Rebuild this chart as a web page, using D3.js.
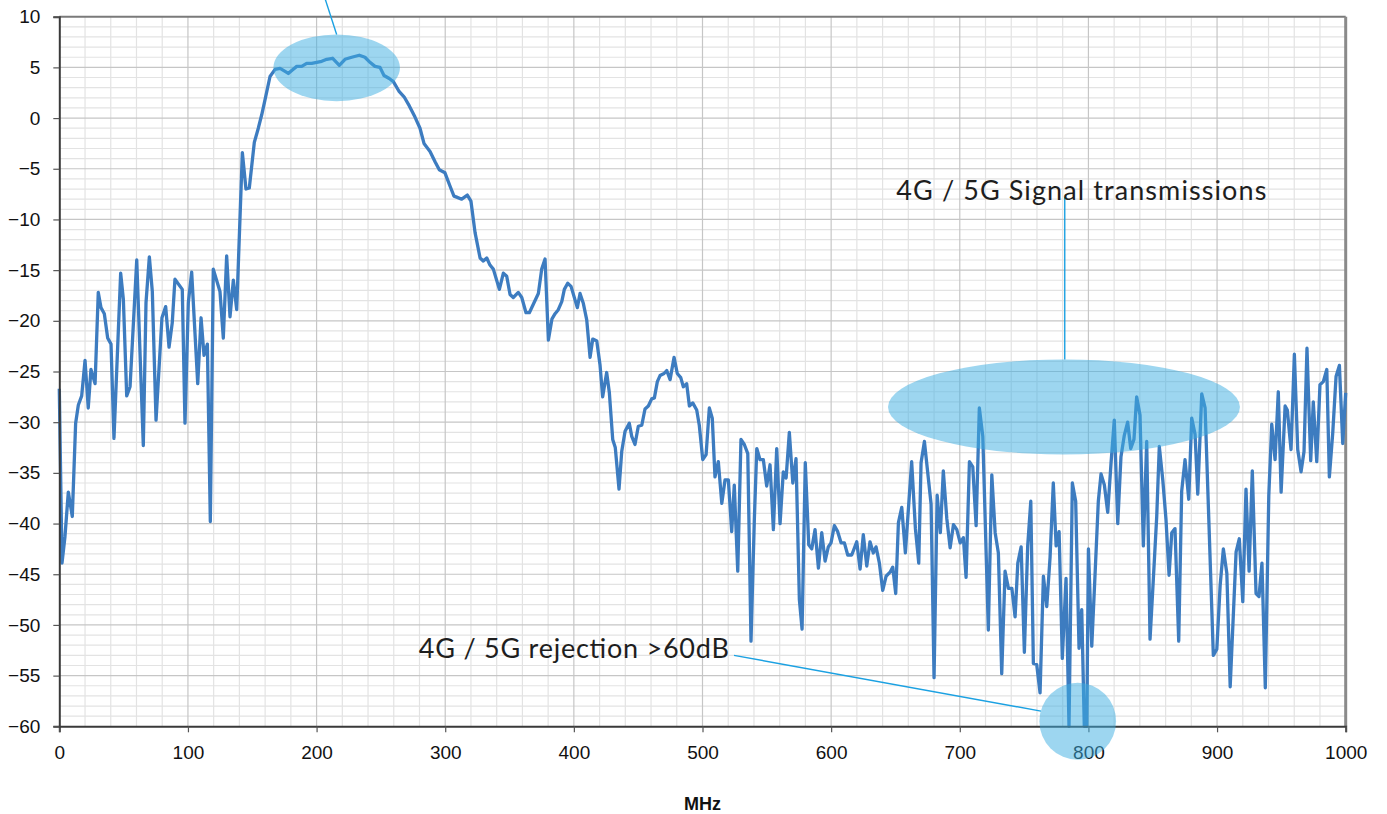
<!DOCTYPE html>
<html>
<head>
<meta charset="utf-8">
<script src="https://cdn.jsdelivr.net/npm/d3@7/dist/d3.min.js"></script>
<style>
  html, body { margin: 0; padding: 0; background: #ffffff; }
  svg { display: block; }
</style>
</head>
<body>
<div id="chart"></div>
<script>
// frequency sweep
const freqMHz = [0,2.1,4.4,7.0,10.1,12.7,14.8,17.4,20.0,22.5,
  24.6,27.8,30.3,32.4,35.0,37.6,40.2,42.5,47.7,49.8,
  52.4,55.0,60.2,65.3,67.4,70.0,72.3,75.2,79.8,82.7,
  85.3,87.8,89.9,95.6,97.7,100.3,102.9,107.6,110.2,112.5,
  115.1,117.4,119.7,124.9,127.5,130.1,132.7,135.3,137.9,142.3,
  145.1,147.7,151.6,154.7,157.3,159.9,163.8,167.7,171.6,175.5,
  178.0,180.7,184.6,188.4,192.3,196.2,200.1,204.0,207.9,212.5,
  217.7,222.1,227.3,233.2,237.6,241.5,245.4,249.3,252.4,256.5,
  259.7,264.3,268.0,272.1,276.5,280.4,283.5,288.2,292.1,295.4,
  299.8,303.7,306.8,308.9,312.8,317.2,320.0,323.2,327.1,329.6,
  332.3,334.8,337.4,342.1,345.2,347.8,350.4,352.9,356.8,359.5,
  362.8,365.4,372.4,375.0,377.6,380.2,383.0,385.4,387.9,390.6,
  392.6,395.2,397.8,402.7,404.8,407.4,410.0,412.6,414.7,417.8,
  420.3,422.4,425.5,427.6,430.2,432.2,435.1,437.2,439.8,443.1,
  445.0,447.5,450.1,452.8,455.3,457.9,460.5,462.6,464.9,467.0,
  470.1,472.2,474.8,477.9,480.4,483.1,485.1,487.7,489.8,492.4,
  495.5,497.5,500.2,502.8,505.3,507.6,509.7,512.3,515.0,517.5,
  520.1,522.7,524.7,527.4,529.9,532.5,535.2,537.7,540.3,542.2,
  544.7,547.3,549.9,552.5,555.1,557.7,560.3,562.8,565.0,567.5,
  570.2,572.7,575.3,577.4,579.9,582.6,584.9,587.5,590.1,592.7,
  595.3,597.8,599.9,602.5,605.1,607.7,610.3,612.9,616.0,619.9,
  622.5,625.0,627.7,630.2,632.8,634.9,637.5,640.1,642.7,645.8,
  647.9,650.2,652.3,654.9,657.7,662.6,665.5,668.1,669.9,672.5,
  677.7,680.0,682.4,684.9,687.2,689.9,692.5,695.1,697.7,700.3,
  702.8,704.9,707.5,710.1,712.7,715.2,717.9,722.2,724.9,727.5,
  730.0,732.6,735.2,737.8,740.5,743.0,745.1,747.7,750.2,752.8,
  755.2,757.2,759.8,762.4,765.0,767.6,770.2,772.7,774.9,777.2,
  779.7,782.6,784.9,787.5,790.1,792.7,794.8,796.8,798.7,800.0,
  802.6,805.2,807.7,809.8,812.4,815.0,817.6,820.1,822.8,825.3,
  827.9,830.5,832.9,835.4,837.5,840.1,842.7,845.3,847.9,850.5,
  853.1,855.1,857.8,860.3,862.7,864.8,867.3,870.2,872.5,875.1,
  878.0,880.3,882.9,885.0,888.1,890.7,897.1,899.8,902.4,904.9,
  907.6,910.2,914.8,917.3,920.0,922.5,924.9,927.4,930.3,932.6,
  934.9,937.5,940.2,942.5,945.1,947.6,949.8,952.9,954.6,957.5,
  960.1,962.7,965.3,967.6,969.9,972.8,974.8,977.5,980.0,982.6,
  985.3,987.3,989.9,992.5,995.1,997.7,1000];

const levelDb = [-26.7,-43.9,-41.3,-36.9,-39.3,-30.1,-28.3,-27.4,-23.9,-28.6,
  -24.8,-26.2,-17.2,-18.7,-19.3,-21.7,-22.3,-31.6,-15.3,-17.9,
  -27.4,-26.5,-14.0,-32.3,-18.2,-13.7,-17.1,-29.8,-19.7,-18.6,
  -22.6,-20.2,-15.9,-16.9,-30.1,-18.2,-15.2,-26.2,-19.7,-23.4,
  -22.3,-39.8,-14.9,-17.1,-21.7,-13.6,-19.6,-16.0,-18.9,-3.4,
  -7.0,-6.9,-2.4,-1.0,0.3,1.8,4.1,4.8,4.9,4.6,
  4.4,4.7,5.1,5.1,5.4,5.4,5.5,5.6,5.8,5.9,
  5.2,5.8,6.0,6.2,6.0,5.5,5.1,5.0,4.2,3.9,
  3.6,2.6,2.1,1.2,0.1,-1.0,-2.5,-3.3,-4.3,-5.1,
  -5.4,-6.7,-7.7,-7.8,-8.0,-7.6,-8.2,-11.3,-13.8,-14.1,
  -13.8,-14.5,-14.9,-16.9,-15.3,-15.6,-17.4,-17.7,-17.2,-17.7,
  -19.2,-19.2,-17.3,-14.9,-13.9,-21.9,-19.8,-19.3,-18.9,-18.1,
  -16.9,-16.3,-16.6,-18.7,-17.3,-18.3,-19.9,-23.6,-21.8,-22.0,
  -24.3,-27.5,-25.1,-27.1,-31.7,-32.5,-36.6,-32.9,-30.9,-30.1,
  -31.4,-32.2,-30.4,-30.3,-28.7,-28.4,-27.7,-27.6,-26.0,-25.4,
  -25.2,-24.9,-25.8,-23.6,-25.2,-25.6,-26.5,-26.2,-28.4,-28.1,
  -28.8,-30.3,-33.7,-33.2,-28.6,-29.6,-35.4,-33.9,-38.0,-35.7,
  -35.7,-40.8,-36.2,-44.7,-31.7,-32.2,-33.1,-51.6,-39.6,-32.6,
  -33.7,-33.7,-36.3,-34.2,-40.6,-32.6,-40.0,-34.9,-35.5,-31.0,
  -36.0,-33.6,-47.5,-50.4,-34.0,-42.1,-42.5,-40.6,-44.4,-40.9,
  -43.7,-42.3,-41.9,-40.2,-40.8,-41.9,-41.9,-43.1,-43.1,-41.8,
  -44.5,-41.1,-44.2,-41.8,-42.9,-42.3,-43.9,-46.6,-45.2,-44.8,
  -44.3,-46.9,-39.9,-38.4,-42.9,-33.9,-40.5,-43.9,-34.0,-31.9,
  -38.1,-55.2,-37.2,-40.9,-34.8,-39.5,-42.4,-40.1,-40.6,-41.9,
  -41.4,-45.3,-33.9,-34.4,-40.2,-28.6,-31.4,-50.5,-35.2,-40.9,
  -42.9,-54.8,-44.7,-46.4,-46.4,-49.2,-43.9,-42.3,-52.7,-42.2,
  -37.8,-53.8,-53.9,-56.7,-45.2,-48.2,-43.3,-36.0,-42.2,-40.8,
  -53.3,-45.4,-60.0,-36.0,-37.8,-52.3,-48.5,-60.0,-60.0,-42.5,
  -52.1,-44.9,-37.8,-35.1,-36.2,-38.9,-34.0,-29.8,-40.0,-33.4,
  -31.3,-30.0,-32.6,-31.7,-27.5,-29.3,-42.2,-31.9,-51.4,-45.4,
  -39.3,-32.4,-35.7,-39.6,-45.1,-40.9,-40.5,-51.6,-36.8,-33.7,
  -37.6,-29.6,-31.2,-37.1,-27.2,-28.6,-53.0,-52.4,-46.1,-42.5,
  -44.9,-56.1,-42.8,-41.5,-47.7,-36.6,-44.7,-34.8,-46.9,-47.2,
  -43.9,-56.2,-37.3,-30.2,-33.7,-27.0,-36.9,-28.4,-28.8,-32.7,
  -23.3,-32.7,-34.9,-32.9,-22.7,-33.8,-28.0,-33.9,-26.3,-26.0,
  -24.8,-35.4,-31.1,-25.5,-24.4,-32.1,-27.1];

const xTicks = [0, 100, 200, 300, 400, 500, 600, 700, 800, 900, 1000];
const yTicks = [10, 5, 0, -5, -10, -15, -20, -25, -30, -35, -40, -45, -50, -55, -60];
const xLabel = "MHz";

// highlighted regions: centre (MHz, dB) and half sizes (MHz, dB)
const ellipseCx = [215.6, 781.0, 791.7];
const ellipseCy = [4.96, -28.5, -59.5];
const ellipseRx = [49.2, 136.8, 29.8];
const ellipseRy = [3.29, 4.69, 3.8];

const noteText = ["", "4G / 5G Signal transmissions", "4G / 5G rejection >60dB"];

const width = 1387, height = 814;
const margin = {left: 59.3, right: 41.3, top: 16.7, bottom: 87.7};
const innerW = width - margin.left - margin.right;
const innerH = height - margin.top - margin.bottom;

const lineColor = "#3d7cc0";
const noteColor = "#1ba1e2";
const fontAxis = "'Liberation Sans', Arial, sans-serif";
const fontNote = "Lato, 'Open Sans', sans-serif";

const svg = d3.select("#chart").append("svg")
  .attr("width", width)
  .attr("height", height);

const g = svg.append("g")
  .attr("transform", "translate(" + margin.left + "," + margin.top + ")");

const x = d3.scaleLinear().domain([0, 1000]).range([0, innerW]);
const y = d3.scaleLinear().domain([-60, 10]).range([innerH, 0]);

// minor grid (20 MHz / 1 dB), then the major one on top
g.append("g").selectAll("line")
  .data(d3.range(0, 1001, 20).filter(d => d % 100 !== 0))
  .join("line")
  .attr("x1", d => x(d)).attr("x2", d => x(d))
  .attr("y1", 0).attr("y2", innerH)
  .attr("stroke", "#e3e3e3").attr("stroke-width", 1.2);

g.append("g").selectAll("line")
  .data(d3.range(-60, 11, 1).filter(d => d % 5 !== 0))
  .join("line")
  .attr("x1", 0).attr("x2", innerW)
  .attr("y1", d => y(d)).attr("y2", d => y(d))
  .attr("stroke", "#e3e3e3").attr("stroke-width", 1.2);

g.append("g").selectAll("line")
  .data(xTicks.slice(1, -1))
  .join("line")
  .attr("x1", d => x(d)).attr("x2", d => x(d))
  .attr("y1", 0).attr("y2", innerH)
  .attr("stroke", "#c6c6c6").attr("stroke-width", 1.2);

g.append("g").selectAll("line")
  .data(yTicks.slice(1, -1))
  .join("line")
  .attr("x1", 0).attr("x2", innerW)
  .attr("y1", d => y(d)).attr("y2", d => y(d))
  .attr("stroke", "#c6c6c6").attr("stroke-width", 1.2);

// top and right frame
g.append("line").attr("x1", 0).attr("x2", innerW).attr("y1", 0).attr("y2", 0)
  .attr("stroke", "#7a7a7a").attr("stroke-width", 2);
g.append("line").attr("x1", innerW).attr("x2", innerW).attr("y1", 0).attr("y2", innerH)
  .attr("stroke", "#8a8a8a").attr("stroke-width", 3);

// the trace
const points = freqMHz.map((f, i) => [f, levelDb[i]]);
const line = d3.line().x(d => x(d[0])).y(d => y(d[1]));

g.append("path")
  .datum(points)
  .attr("d", line)
  .attr("fill", "none")
  .attr("stroke", lineColor)
  .attr("stroke-width", 3.3)
  .attr("stroke-linejoin", "round");

// axes
const xAxis = g.append("g")
  .attr("transform", "translate(0," + innerH + ")")
  .call(d3.axisBottom(x).tickValues(xTicks).tickSize(6).tickPadding(12).tickFormat(d3.format("d")));
const yAxis = g.append("g")
  .call(d3.axisLeft(y).tickValues(yTicks).tickSize(6).tickPadding(13).tickFormat(d3.format("d")));

[xAxis, yAxis].forEach(a => {
  a.select(".domain").attr("stroke", "#3a3a3a").attr("stroke-width", 2);
  a.selectAll(".tick line").attr("stroke", "#555").attr("stroke-width", 1.2);
  a.selectAll("text").attr("font-family", fontAxis).attr("font-size", 19).attr("fill", "#111");
});
xAxis.selectAll("text").attr("dy", "0.75em");

svg.append("text")
  .attr("x", margin.left + innerW / 2)
  .attr("y", 810)
  .attr("text-anchor", "middle")
  .attr("font-family", fontAxis)
  .attr("font-weight", "bold")
  .attr("font-size", 18)
  .attr("fill", "#111")
  .text(xLabel);

// highlight ellipses drawn over the trace
const notes = g.append("g");
ellipseCx.forEach((cx, i) => {
  notes.append("ellipse")
    .attr("cx", x(cx))
    .attr("cy", y(ellipseCy[i]))
    .attr("rx", x(ellipseRx[i]) - x(0))
    .attr("ry", y(0) - y(ellipseRy[i]))
    .attr("fill", "#3badE1")
    .attr("fill-opacity", 0.5);
});

// leader lines
const topE = 0, sigE = 1, rejE = 2;
notes.append("line")
  .attr("x1", x(206.8)).attr("y1", y(11.7))
  .attr("x2", x(ellipseCx[topE])).attr("y2", y(ellipseCy[topE] + ellipseRy[topE]))
  .attr("stroke", noteColor).attr("stroke-width", 1.4);

notes.append("line")
  .attr("x1", x(781.6)).attr("y1", y(-7.8))
  .attr("x2", x(781.6)).attr("y2", y(ellipseCy[sigE] + ellipseRy[sigE]))
  .attr("stroke", noteColor).attr("stroke-width", 1.4);

notes.append("line")
  .attr("x1", x(524.5)).attr("y1", y(-53.0))
  .attr("x2", x(763.1)).attr("y2", y(-58.5))
  .attr("stroke", noteColor).attr("stroke-width", 1.4);

notes.append("text")
  .attr("x", x(780.5) + 18)
  .attr("y", y(-8.1))
  .attr("text-anchor", "middle")
  .attr("font-family", fontNote)
  .attr("font-size", 27)
  .attr("fill", "#1e1e1e")
  .attr("textLength", 370)
  .text(noteText[sigE]);

notes.append("text")
  .attr("x", x(520.5))
  .attr("y", y(-53.3))
  .attr("text-anchor", "end")
  .attr("font-family", fontNote)
  .attr("font-size", 27)
  .attr("fill", "#1e1e1e")
  .attr("textLength", 310)
  .text(noteText[rejE]);
</script>
</body>
</html>
